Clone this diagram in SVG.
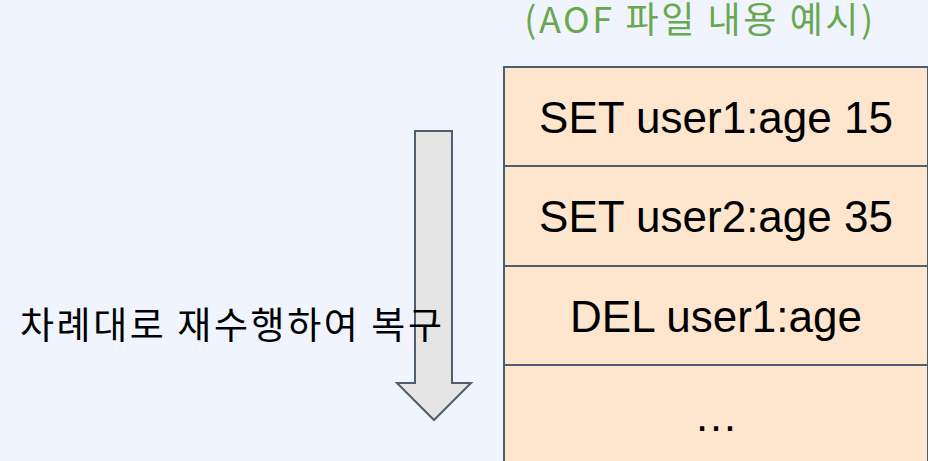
<svg xmlns="http://www.w3.org/2000/svg" width="928" height="461" viewBox="0 0 928 461">
<style>
.bg{fill:#eff4fe}
.cell{fill:#fde6cd;stroke:#4f5d70;stroke-width:2}
.arrow{fill:#e5e5e5;stroke:#4f5d70;stroke-width:2;stroke-linejoin:miter}
.cmd{font-family:"Liberation Sans",Arial,sans-serif;font-size:44px;fill:#000;text-anchor:middle}
.title{font-family:"Noto Sans CJK KR","Noto Sans",sans-serif;font-size:36px;fill:#6aa84f;text-anchor:middle;letter-spacing:2.6px}
.label{font-family:"Noto Sans CJK KR","Noto Sans",sans-serif;font-size:37px;fill:#000}
</style>
<rect class="bg" x="0" y="0" width="928" height="461"/>
<g id="title">
<text class="title" x="700" y="33">(AOF 파일 내용 예시)</text>
</g>
<g id="aof-table">
<g id="row1">
<rect class="cell" x="504" y="67" width="424" height="99"/>
<text class="cmd" x="716" y="133">SET user1:age 15</text>
</g>
<g id="row2">
<rect class="cell" x="504" y="166" width="424" height="100"/>
<text class="cmd" x="716" y="232">SET user2:age 35</text>
</g>
<g id="row3">
<rect class="cell" x="504" y="266" width="424" height="99"/>
<text class="cmd" x="716" y="332">DEL user1:age</text>
</g>
<g id="row4">
<rect class="cell" x="504" y="365" width="424" height="110"/>
<text class="cmd" x="716" y="431">…</text>
</g>
</g>
<g id="connectors">
<polygon class="arrow" points="415,131 452,131 452,383 471,383 434,420 397,383 415,383"/>
</g>
<g id="replay-label">
<text class="label" x="20" y="339" textLength="422" lengthAdjust="spacing">차례대로 재수행하여 복구</text>
</g>
</svg>
